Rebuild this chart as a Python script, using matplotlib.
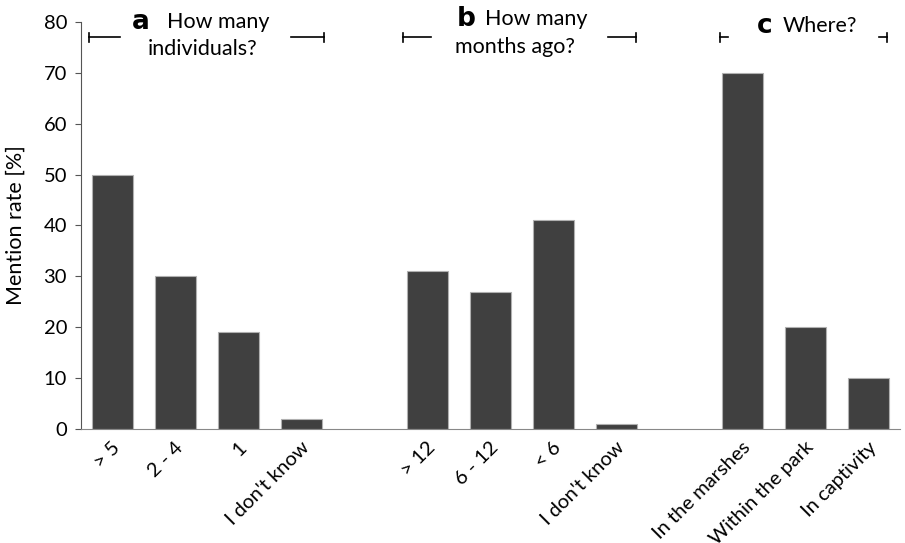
import matplotlib.pyplot as plt
import matplotlib.transforms as mtransforms

# Данні з рисунка
labels_a = ["> 5", "2 - 4", "1", "I don't know"]
values_a = [50, 30, 19, 2]
labels_b = ["> 12", "6 - 12", "< 6", "I don't know"]
values_b = [31, 27, 41, 1]
labels_c = ["In the marshes", "Within the park", "In captivity"]
values_c = [70, 20, 10]

plt.rcParams["font.family"] = ["Lato", "DejaVu Sans"]

labels = labels_a + labels_b + labels_c
values = values_a + values_b + values_c
positions = list(range(0, 4)) + list(range(5, 9)) + list(range(10, 13))

fig = plt.figure(figsize=(9.05, 5.43), dpi=100)
ax = fig.add_axes([0.0895, 0.21, 0.905, 0.7495])

ax.bar(positions, values, width=0.65, color="#404040", edgecolor="#b0b0b0", linewidth=0.8)

ax.set_xlim(-0.5, 12.5)
ax.set_ylim(0, 80)
ax.set_yticks(range(0, 81, 10))
ax.tick_params(axis="y", labelsize=14.5, length=4, pad=6, color="#555555")
ax.set_ylabel("Mention rate [%]", fontsize=15.5)
ax.yaxis.set_label_coords(-0.068, 0.5)

ax.set_xticks(positions)
ax.set_xticklabels(labels, rotation=45, ha="right", rotation_mode="anchor", fontsize=14.5)
ax.tick_params(axis="x", length=0, pad=7)
offset = mtransforms.ScaledTranslation(-0.01, 0, fig.dpi_scale_trans)
for lbl in ax.get_xticklabels():
    lbl.set_transform(lbl.get_transform() + offset)

ax.spines["top"].set_visible(False)
ax.spines["right"].set_visible(False)
ax.spines["left"].set_color("#555555")
ax.spines["bottom"].set_color("#888888")


# Дужки над групами
def bracket(x0, x1, x2, x3, y=77):
    kw = dict(color="black", lw=1.2, clip_on=False)
    ax.plot([x0, x1], [y, y], **kw)
    ax.plot([x0, x0], [y - 0.9, y + 0.9], **kw)
    ax.plot([x2, x3], [y, y], **kw)
    ax.plot([x3, x3], [y - 0.9, y + 0.9], **kw)


bracket(-0.37, 0.12, 2.84, 3.35)
bracket(4.61, 5.05, 7.87, 8.31)
bracket(9.65, 9.77, 12.16, 12.29)

ax.text(0.31, 80.0, "a", fontsize=19, fontweight="bold", va="center", family="DejaVu Sans")
ax.text(0.87, 80.0, "How many", fontsize=15.5, va="center")
ax.text(0.56, 74.6, "individuals?", fontsize=15.5, va="center")

ax.text(5.46, 80.5, "b", fontsize=19, fontweight="bold", va="center", family="DejaVu Sans")
ax.text(5.91, 80.5, "How many", fontsize=15.5, va="center")
ax.text(5.44, 75.0, "months ago?", fontsize=15.5, va="center")

ax.text(10.23, 79.3, "c", fontsize=19, fontweight="bold", va="center", family="DejaVu Sans")
ax.text(10.64, 79.3, "Where?", fontsize=15.5, va="center")

plt.savefig("out.png", dpi=100)
